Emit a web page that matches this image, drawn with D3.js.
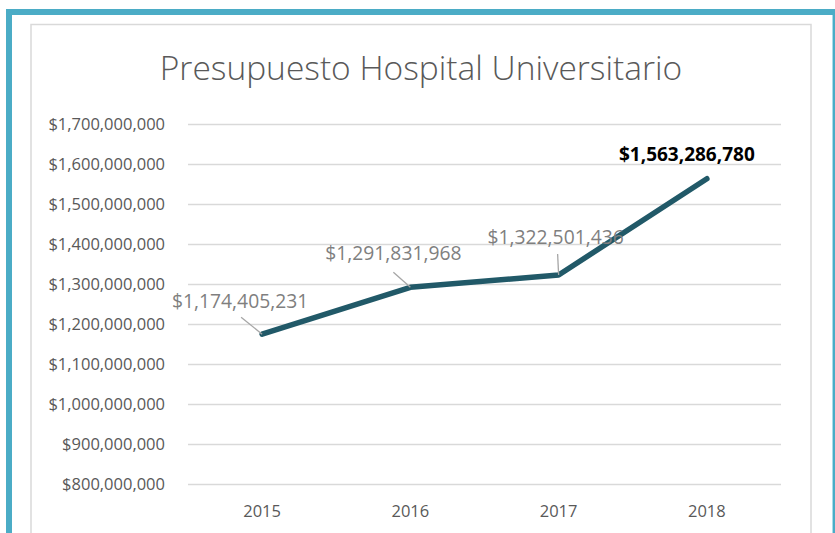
<!DOCTYPE html>
<html>
<head>
<meta charset="utf-8">
<script src="https://cdn.jsdelivr.net/npm/d3@7"></script>
<style>
  body { margin: 0; background: #fff; }
  svg { display: block; }
</style>
</head>
<body>
<div class="chart"></div>
<script>
// data
var years = [`2015`, `2016`, `2017`, `2018`];
var budget = [1174405231, 1291831968, 1322501436, 1563286780];
var yTicks = [800000000, 900000000, 1000000000, 1100000000, 1200000000,
    1300000000, 1400000000, 1500000000, 1600000000, 1700000000];

var fullWidth = 835, fullHeight = 533;
var margin = {top: 124, bottom: 49, left: 188, right: 54};
var width = fullWidth - margin.left - margin.right;
var height = fullHeight - margin.top - margin.bottom;

var font = `'Open Sans', 'Noto Sans', sans-serif`;

var root = d3.select(`.chart`)
    .append(`svg`)
    .attr(`width`, fullWidth)
    .attr(`height`, fullHeight);

// outer frame (teal selection border)
root.append(`rect`)
    .attr(`x`, 9).attr(`y`, 12)
    .attr(`width`, 824).attr(`height`, 540)
    .attr(`fill`, `none`)
    .attr(`stroke`, `#4bacc6`)
    .attr(`stroke-width`, 6);
root.append(`line`)
    .attr(`x1`, 832.5).attr(`x2`, 832.5)
    .attr(`y1`, 15).attr(`y2`, fullHeight)
    .attr(`stroke`, `#a8dcea`).attr(`stroke-width`, 1);
root.append(`rect`)
    .attr(`x`, 12).attr(`y`, 15)
    .attr(`width`, 820).attr(`height`, 540)
    .attr(`fill`, `#fff`);

// chart area border
root.append(`rect`)
    .attr(`x`, 31).attr(`y`, 24.5)
    .attr(`width`, 780).attr(`height`, 540)
    .attr(`fill`, `#fff`)
    .attr(`stroke`, `#d9d9d9`)
    .attr(`stroke-width`, 1.5);

root.append(`text`)
    .attr(`x`, 421).attr(`y`, 80)
    .attr(`text-anchor`, `middle`)
    .style(`font-family`, font)
    .style(`font-size`, `33.5px`)
    .style(`font-weight`, 300)
    .style(`fill`, `#595959`)
    .text(`Presupuesto Hospital Universitario`);

var svg = root.append(`g`)
    .attr(`transform`, `translate(${margin.left},${margin.top})`);

var yScale = d3.scaleLinear()
    .domain([800000000, 1700000000])
    .range([height, 0]);

var xScale = d3.scaleBand()
    .domain(years)
    .range([0, width]);

var fmt = d3.format(`$,.0f`);

// gridlines
svg.append(`g`)
    .call(d3.axisLeft(yScale).tickValues(yTicks).tickSize(-width).tickFormat(``))
    .call(g => g.select(`.domain`).remove())
    .call(g => g.selectAll(`line`).attr(`stroke`, `#d9d9d9`).attr(`stroke-width`, 1.5));

// y labels
svg.append(`g`)
    .call(d3.axisLeft(yScale).tickValues(yTicks).tickSize(0).tickPadding(23).tickFormat(fmt))
    .call(g => g.select(`.domain`).remove())
    .selectAll(`text`)
    .style(`font-family`, font)
    .style(`font-size`, `16.5px`)
    .style(`fill`, `#595959`);

// x labels
svg.append(`g`)
    .attr(`transform`, `translate(0, ${height})`)
    .call(d3.axisBottom(xScale).tickSize(0).tickPadding(21))
    .call(g => g.select(`.domain`).remove())
    .selectAll(`text`)
    .style(`font-family`, font)
    .style(`font-size`, `16.5px`)
    .style(`fill`, `#595959`);

var points = years.map((y, i) => ({year: y, value: budget[i]}));
var px = d => xScale(d.year) + xScale.bandwidth() / 2;
var py = d => yScale(d.value);

svg.append(`path`)
    .datum(points)
    .attr(`fill`, `none`)
    .attr(`stroke`, `#215968`)
    .attr(`stroke-width`, 5.5)
    .attr(`stroke-linecap`, `round`)
    .attr(`stroke-linejoin`, `round`)
    .attr(`d`, d3.line().x(px).y(py));

// data labels: offsets from the point, plus leader lines
var labelPos = [
    {dx: -22, dy: -33, lx: -21, ly: -17},
    {dx: -17, dy: -34, lx: -17, ly: -15},
    {dx: -3, dy: -38, lx: -1, ly: -21},
    {dx: -20, dy: -24, lx: 0, ly: 0}
];

var labels = svg.append(`g`);
points.forEach((d, i) => {
    var p = labelPos[i];
    var last = i === points.length - 1;
    if (p.lx || p.ly) {
        labels.append(`line`)
            .attr(`x1`, px(d)).attr(`y1`, py(d))
            .attr(`x2`, px(d) + p.lx).attr(`y2`, py(d) + p.ly)
            .attr(`stroke`, `#a6a6a6`)
            .attr(`stroke-width`, 1.3);
    }
    labels.append(`text`)
        .attr(`x`, px(d) + p.dx)
        .attr(`y`, py(d) + p.dy)
        .attr(`dy`, `0.35em`)
        .attr(`text-anchor`, `middle`)
        .style(`font-family`, font)
        .style(`font-size`, last ? `19px` : `19.3px`)
        .style(`font-weight`, last ? `bold` : `normal`)
        .style(`fill`, last ? `#000` : `#7f7f7f`)
        .text(fmt(d.value));
});
</script>
</body>
</html>
